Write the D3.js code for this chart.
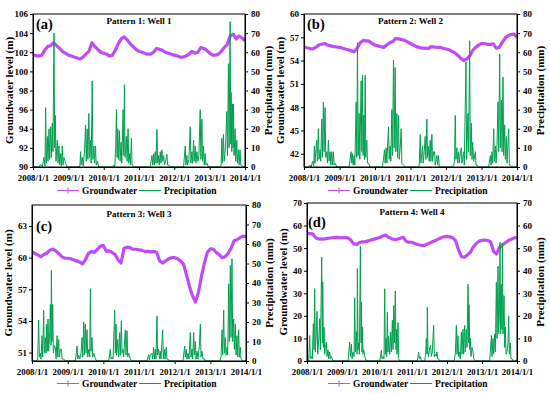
<!DOCTYPE html>
<html><head><meta charset="utf-8">
<script src="https://cdn.jsdelivr.net/npm/d3@7"></script>
<style>
body{margin:0;background:#fff}
svg text{font-family:"Liberation Serif","Times New Roman",serif;font-weight:bold;fill:#000}
</style>
</head><body>
<svg id="c" width="550" height="393"></svg>
<script>
// ---------------- DATA ----------------
const xTickLabels = ["2008/1/1","2009/1/1","2010/1/1","2011/1/1","2012/1/1","2013/1/1","2014/1/1"];
const panelTitles = ["Pattern 1: Well 1","Pattern 2: Well 2","Pattern 3: Well 3","Pattern 4: Well 4"];
const panelLabels = ["(a)","(b)","(c)","(d)"];
const leftTicksA = [90,92,94,96,98,100,102,104,106];
const leftTicksB = [42,45,48,51,54,57,60];
const leftTicksC = [51,54,57,60,63];
const leftTicksD = [0,10,20,30,40,50,60,70];
const rightTicks80 = [0,10,20,30,40,50,60,70,80];
const rightTicks70 = [0,10,20,30,40,50,60,70];
const leftDomains = [[90,106],[40.3,60],[50.2,65],[0,70]];
const rightDomains = [[0,80],[0,80],[0,80],[0,70]];

// Groundwater level (m), monthly, 2008/1 ... 2014/1
const gwA = [101.7,101.65,101.6,101.7,102.2,102.6,102.7,103.0,102.7,102.4,102.1,101.9,
101.7,101.6,101.5,101.4,101.3,101.5,101.8,102.1,103.0,102.6,102.3,102.0,
101.9,101.8,101.6,101.7,102.2,102.9,103.4,103.6,103.3,102.9,102.6,102.3,
102.1,102.0,101.9,101.8,101.8,102.0,102.4,102.3,102.2,102.0,101.9,101.8,
101.7,101.6,101.5,101.5,101.6,101.8,102.1,101.9,102.0,102.5,102.4,102.2,
101.9,101.7,101.7,101.8,102.1,102.5,102.8,103.7,103.9,103.4,103.7,103.5,
103.2];
const gwB = [55.8,55.65,55.55,55.5,55.7,56.0,56.1,56.2,56.0,55.9,55.8,55.75,
55.7,55.6,55.5,55.4,55.25,55.15,55.6,56.3,56.6,56.55,56.5,56.2,
56.0,55.9,55.8,55.7,56.0,56.3,56.45,56.85,56.8,56.7,56.6,56.4,
56.2,56.0,55.8,55.7,55.6,55.6,55.55,55.8,55.75,55.7,55.7,55.6,
55.5,55.4,55.2,55.0,54.7,54.3,54.0,54.2,54.6,55.3,55.7,56.0,
56.2,56.2,56.1,56.1,56.15,55.6,55.7,56.3,56.9,57.2,57.35,57.4,
57.0];
const gwC = [60.55,60.4,60.25,60.1,60.3,60.45,60.7,60.8,60.65,60.4,60.1,59.95,
59.95,59.9,59.8,59.7,59.6,59.4,59.8,60.4,60.6,60.5,60.8,61.1,
61.15,60.6,60.65,60.5,60.3,59.8,59.5,60.9,61.0,60.95,60.8,60.8,
60.75,60.7,60.6,60.6,60.55,60.6,60.5,59.7,59.5,59.7,59.9,60.0,
60.0,59.9,59.7,59.4,58.4,57.3,56.4,55.8,56.7,58.2,59.5,60.5,
60.85,60.8,60.5,60.3,60.0,60.1,60.4,60.9,61.6,61.7,61.9,62.05,
62.0];
const gwD = [56.7,56.4,56.3,54.6,54.1,54.0,54.1,54.3,54.5,54.7,54.8,54.7,
54.6,54.8,54.6,53.6,52.0,51.6,52.4,52.8,52.9,53.2,53.6,54.0,
54.4,54.8,55.4,55.8,54.8,54.2,53.8,54.0,54.4,54.8,53.0,52.6,
52.6,52.0,51.6,51.3,51.1,51.6,52.2,52.8,53.4,54.0,54.6,55.1,
55.2,55.0,54.6,53.2,49.2,46.2,46.0,47.0,48.2,50.5,52.0,53.1,
53.5,53.6,53.4,52.8,48.6,47.4,50.2,51.4,52.4,53.3,53.9,54.5,
54.8];

// Precipitation (mm): [decimal year, value]
const rainA = [[2008.0,0],
[2008.169,0],[2008.216,1.4],[2008.263,0],[2008.310,5],[2008.339,0.5],[2008.357,31],[2008.376,2],[2008.405,16],[2008.423,3],[2008.452,20],[2008.470,4],[2008.499,21],[2008.517,5],[2008.546,23],[2008.564,8],[2008.593,70],[2008.611,10],[2008.630,27],[2008.649,3],[2008.687,14],[2008.706,2],[2008.734,11],[2008.753,1],[2008.781,7],[2008.800,0.5],[2008.828,11],[2008.847,1],[2008.875,5],[2008.922,2],[2008.969,0],
[2009.251,0],[2009.326,0.5],[2009.345,8],[2009.364,1],[2009.392,5],[2009.420,0.5],[2009.458,9],[2009.486,22],[2009.505,3],[2009.533,20],[2009.552,4],[2009.580,28],[2009.599,5],[2009.627,14],[2009.646,2],[2009.674,45],[2009.693,4],[2009.722,11],[2009.740,2],[2009.769,11],[2009.787,1],[2009.816,3],[2009.863,0],
[2010.239,0],[2010.286,1],[2010.314,0],[2010.342,12],[2010.361,30],[2010.380,5],[2010.399,20],[2010.418,4],[2010.446,19],[2010.465,3],[2010.493,13],[2010.512,2],[2010.549,30],[2010.568,6],[2010.587,43],[2010.606,5],[2010.643,16],[2010.662,3],[2010.690,20],[2010.709,2],[2010.738,7],[2010.756,1],[2010.785,15],[2010.803,1],[2010.832,0.5],[2010.869,0],
[2011.274,0],[2011.321,0.5],[2011.368,6],[2011.387,1],[2011.415,7],[2011.434,1],[2011.462,8],[2011.481,2],[2011.509,19.6],[2011.528,2],[2011.556,6],[2011.575,1],[2011.603,8],[2011.622,2],[2011.650,9],[2011.669,3],[2011.697,6],[2011.725,1],[2011.791,6.6],[2011.810,1],[2011.838,1],[2011.885,0],
[2012.262,0],[2012.309,11],[2012.327,1],[2012.356,6],[2012.374,1],[2012.412,4],[2012.450,21],[2012.469,2],[2012.497,8],[2012.516,2],[2012.544,14],[2012.563,3],[2012.591,11],[2012.610,2],[2012.638,8],[2012.666,3],[2012.694,6],[2012.732,30],[2012.751,4],[2012.779,25],[2012.798,3],[2012.827,11],[2012.845,1],[2012.873,7],[2012.892,1],[2012.920,2],[2012.967,0],
[2013.277,0],[2013.324,1],[2013.343,15],[2013.362,2],[2013.390,17],[2013.409,3],[2013.447,10],[2013.484,29],[2013.503,6],[2013.532,54],[2013.550,10],[2013.578,76],[2013.597,12],[2013.607,39],[2013.626,8],[2013.644,33],[2013.663,10],[2013.673,33],[2013.691,6],[2013.720,20],[2013.738,3],[2013.767,14],[2013.786,2],[2013.814,9],[2013.833,1],[2013.861,9],[2013.880,1],[2013.908,1],[2013.955,0],
[2014.0,0]];
const rainB = [[2008.0,0],
[2008.122,0],[2008.169,1],[2008.198,0],[2008.245,3],[2008.273,0.5],[2008.292,11],[2008.310,2],[2008.339,10],[2008.357,14],[2008.376,3],[2008.405,20],[2008.423,4],[2008.452,9],[2008.470,3],[2008.499,25],[2008.517,5],[2008.546,34],[2008.564,8],[2008.593,31],[2008.611,5],[2008.640,8],[2008.659,2],[2008.687,14],[2008.706,3],[2008.734,8],[2008.753,1],[2008.781,8],[2008.800,1],[2008.828,8],[2008.847,1],[2008.875,2],[2008.922,0],
[2009.270,0],[2009.326,8],[2009.345,2],[2009.364,7],[2009.383,1],[2009.411,6],[2009.430,1],[2009.468,34],[2009.486,5],[2009.505,65],[2009.524,6],[2009.552,28],[2009.571,4],[2009.609,45],[2009.627,8],[2009.646,48],[2009.665,6],[2009.684,27],[2009.703,4],[2009.722,48],[2009.740,5],[2009.769,14],[2009.787,2],[2009.816,2],[2009.863,0],
[2010.211,0],[2010.267,9],[2010.286,2],[2010.314,10],[2010.333,2],[2010.380,21],[2010.399,4],[2010.427,11],[2010.446,3],[2010.474,30],[2010.493,6],[2010.521,56],[2010.540,10],[2010.568,52],[2010.587,8],[2010.615,28],[2010.634,5],[2010.662,27],[2010.681,4],[2010.709,10],[2010.737,20],[2010.756,2],[2010.803,1],[2010.850,0],
[2011.208,0],[2011.246,1],[2011.274,17],[2011.293,2],[2011.340,11],[2011.358,2],[2011.387,8],[2011.415,16],[2011.434,4],[2011.462,25],[2011.481,5],[2011.509,11],[2011.528,3],[2011.556,14],[2011.575,3],[2011.603,17],[2011.622,3],[2011.650,8],[2011.678,8],[2011.697,1],[2011.744,6],[2011.763,1],[2011.791,6],[2011.810,0.5],[2011.857,0],
[2012.167,0],[2012.214,1],[2012.242,3],[2012.261,27],[2012.280,4],[2012.308,10],[2012.327,2],[2012.355,8],[2012.374,2],[2012.402,7],[2012.431,10],[2012.449,2],[2012.497,8],[2012.515,1],[2012.562,55],[2012.581,4],[2012.619,28],[2012.637,8],[2012.666,66],[2012.684,6],[2012.713,23],[2012.732,4],[2012.750,13],[2012.779,3],[2012.826,8],[2012.845,1],[2012.873,1],[2012.920,0],
[2013.202,0],[2013.249,6],[2013.268,1],[2013.296,8],[2013.315,2],[2013.343,20],[2013.362,3],[2013.390,11],[2013.409,2],[2013.437,12],[2013.465,34],[2013.484,8],[2013.512,59],[2013.531,10],[2013.559,35],[2013.578,8],[2013.606,47],[2013.625,6],[2013.653,22],[2013.672,4],[2013.700,16],[2013.719,2],[2013.766,20],[2013.785,1],[2013.813,1],[2013.860,0],
[2014.0,0]];
const rainC = [[2008.0,0],
[2008.121,0],[2008.159,1],[2008.187,21],[2008.206,2],[2008.234,4],[2008.252,1],[2008.280,13],[2008.299,2],[2008.327,26],[2008.346,4],[2008.374,12],[2008.393,4],[2008.411,19],[2008.430,5],[2008.449,21.5],[2008.467,5],[2008.495,15],[2008.514,29],[2008.533,8],[2008.542,46.5],[2008.561,10],[2008.579,29],[2008.598,4],[2008.626,8],[2008.654,7],[2008.673,1],[2008.701,13],[2008.720,2],[2008.748,11],[2008.766,2],[2008.794,6],[2008.822,6],[2008.841,1],[2008.888,1],[2008.935,0],
[2009.215,0],[2009.262,7.7],[2009.280,1],[2009.308,3],[2009.336,1],[2009.374,4],[2009.402,12],[2009.421,2],[2009.449,20],[2009.467,3],[2009.495,19],[2009.514,4],[2009.542,16],[2009.561,2],[2009.589,6],[2009.617,2],[2009.636,37],[2009.654,5],[2009.682,12],[2009.701,2],[2009.729,4],[2009.776,1],[2009.822,0],
[2010.150,0],[2010.196,6],[2010.215,1],[2010.243,2],[2010.271,1],[2010.318,26],[2010.336,4],[2010.355,19],[2010.374,3],[2010.402,11],[2010.430,2],[2010.458,14.6],[2010.477,3],[2010.505,20.6],[2010.523,4],[2010.551,6],[2010.570,2],[2010.617,16],[2010.636,3],[2010.664,15.5],[2010.682,2],[2010.710,4],[2010.757,1],[2010.804,0],
[2011.224,0],[2011.271,3.4],[2011.290,0.5],[2011.318,3],[2011.364,4],[2011.383,1],[2011.411,7],[2011.430,1],[2011.458,6],[2011.477,1],[2011.505,23],[2011.523,3],[2011.551,6],[2011.579,1],[2011.598,5],[2011.617,1],[2011.664,16],[2011.682,1],[2011.710,6],[2011.729,1],[2011.766,7],[2011.785,1],[2011.813,1],[2011.850,0],
[2012.234,0],[2012.280,7.7],[2012.299,2],[2012.327,6],[2012.346,1],[2012.374,4],[2012.402,1],[2012.439,14.6],[2012.458,2],[2012.486,6],[2012.505,1],[2012.533,14.6],[2012.551,3],[2012.579,10],[2012.598,1],[2012.626,5],[2012.654,1],[2012.692,8],[2012.720,19],[2012.738,2],[2012.766,5],[2012.794,1],[2012.832,1],[2012.869,0],
[2013.262,0],[2013.299,2],[2013.327,16],[2013.346,3],[2013.374,26],[2013.393,4],[2013.421,12],[2013.439,3],[2013.467,7],[2013.486,3],[2013.514,39.6],[2013.533,10],[2013.561,49],[2013.579,12],[2013.607,52.5],[2013.626,10],[2013.654,21.5],[2013.673,6],[2013.701,19],[2013.720,3],[2013.748,13],[2013.766,2],[2013.794,16],[2013.813,2],[2013.841,7],[2013.860,1],[2013.916,0],
[2014.0,0]];
const rainD = [[2008.0,0],
[2008.048,0],[2008.076,11.3],[2008.095,1],[2008.124,2],[2008.152,1],[2008.181,16.5],[2008.200,5],[2008.219,32],[2008.238,4],[2008.267,13],[2008.286,22],[2008.305,3],[2008.333,9],[2008.362,18.7],[2008.381,5],[2008.400,24.6],[2008.419,46],[2008.438,8],[2008.448,35],[2008.467,6],[2008.486,15],[2008.505,3],[2008.524,6],[2008.552,8.4],[2008.571,2],[2008.600,5],[2008.619,1],[2008.648,4],[2008.667,1],[2008.695,2],[2008.743,0],
[2009.171,0],[2009.219,8.4],[2009.238,2],[2009.267,7.5],[2009.286,1],[2009.314,4],[2009.343,2],[2009.362,28],[2009.381,4],[2009.410,13],[2009.429,3],[2009.438,41],[2009.457,5],[2009.476,8],[2009.495,3],[2009.524,51],[2009.543,8],[2009.552,26],[2009.571,4],[2009.581,15],[2009.600,3],[2009.619,5],[2009.648,2],[2009.695,0],
[2010.076,0],[2010.124,4.7],[2010.143,1],[2010.171,2],[2010.200,1],[2010.219,32],[2010.238,3],[2010.257,10],[2010.276,2],[2010.295,21.6],[2010.314,4],[2010.333,11],[2010.362,3],[2010.390,12.8],[2010.410,4],[2010.438,18],[2010.457,5],[2010.476,24.6],[2010.495,8],[2010.524,31],[2010.543,5],[2010.552,14],[2010.571,3],[2010.600,17],[2010.619,1],[2010.648,0],
[2011.152,0],[2011.190,4],[2011.210,1],[2011.238,2],[2011.267,0],[2011.362,0],[2011.390,3],[2011.410,10],[2011.429,3],[2011.438,23.8],[2011.457,4],[2011.476,2],[2011.505,6],[2011.533,7],[2011.552,2],[2011.581,4],[2011.619,15.8],[2011.638,2],[2011.667,3],[2011.695,2],[2011.714,4],[2011.733,1],[2011.762,1],[2011.800,0],
[2012.200,0],[2012.238,3],[2012.267,15.8],[2012.286,3],[2012.314,11.3],[2012.333,2],[2012.362,4],[2012.381,1],[2012.410,12.8],[2012.429,3],[2012.457,14],[2012.476,3],[2012.505,15.8],[2012.524,4],[2012.552,14],[2012.571,6],[2012.600,34],[2012.619,8],[2012.629,25],[2012.648,5],[2012.667,10],[2012.686,2],[2012.714,6],[2012.743,4],[2012.762,1],[2012.810,0],
[2013.219,0],[2013.267,11.3],[2013.286,2],[2013.314,10],[2013.333,3],[2013.362,12],[2013.381,4],[2013.410,35],[2013.429,10],[2013.457,42],[2013.476,12],[2013.495,20],[2013.514,52.6],[2013.533,12],[2013.552,34],[2013.571,14],[2013.581,52],[2013.600,12],[2013.629,29],[2013.648,6],[2013.667,15],[2013.686,3],[2013.714,4],[2013.743,8],[2013.762,20],[2013.781,3],[2013.810,8],[2013.829,1],[2013.857,1],[2013.895,0],
[2014.0,0]];

const legendLabels = ["Groundwater","Precipitation"];
const leftAxisTitle = "Groundwater level (m)";
const rightAxisTitle = "Precipitation (mm)";

// ---------------- DRAW ----------------
const GW_COLOR = "#c04cf7";
const P_COLOR = "#00a04e";
const svg = d3.select("#c");
const gwSets = [gwA,gwB,gwC,gwD];
const rainSets = [rainA,rainB,rainC,rainD];
const leftTickSets = [leftTicksA,leftTicksB,leftTicksC,leftTicksD];
const rightTickSets = [rightTicks80,rightTicks80,rightTicks80,rightTicks70];
const geom = [
  {l:33,r:245,t:14,b:167, lab:[36,29], tt:10, legY:190.5, legX:57},
  {l:304,r:517,t:14,b:167, lab:[307,28.5], tt:10, legY:190.5, legX:328},
  {l:32,r:246,t:205,b:361, lab:[36,231], tt:11.5, legY:383.5, legX:57},
  {l:307,r:517,t:203,b:361, lab:[308,227], tt:12, legY:383.5, legX:328}
];
const months = d3.timeMonth.range(new Date(2008,0,1), new Date(2014,1,1));
const yearDates = d3.timeYear.range(new Date(2008,0,1), new Date(2015,0,1)).slice(0,7);
function decYear(v){
  const y = Math.floor(v);
  const s = new Date(y,0,1), e = new Date(y+1,0,1);
  return new Date(+s + (v-y)*(e-s));
}

geom.forEach((g,i)=>{
  const x = d3.scaleTime().domain([new Date(2008,0,1), new Date(2014,0,1)]).range([g.l,g.r]);
  const yL = d3.scaleLinear().domain(leftDomains[i]).range([g.b,g.t]);
  const yR = d3.scaleLinear().domain(rightDomains[i]).range([g.b,g.t]);
  const gp = svg.append("g");

  const cid = "clip"+i;
  svg.append("clipPath").attr("id",cid).append("rect")
    .attr("x",g.l).attr("y",g.t).attr("width",g.r-g.l).attr("height",g.b-g.t);

  // groundwater line
  gp.append("path").datum(gwSets[i].map((v,k)=>[months[k],v]))
    .attr("clip-path",`url(#${cid})`)
    .attr("fill","none").attr("stroke",GW_COLOR).attr("stroke-width",3.2)
    .attr("stroke-linejoin","round")
    .attr("d", d3.line().x(d=>x(d[0])).y(d=>yL(d[1])));

  // precipitation line
  gp.append("path").datum(rainSets[i])
    .attr("clip-path",`url(#${cid})`)
    .attr("fill","none").attr("stroke",P_COLOR).attr("stroke-width",1)
    .attr("d", d3.line().x(d=>x(decYear(d[0]))).y(d=>yR(d[1])));

  // frame
  gp.append("rect").attr("x",g.l).attr("y",g.t).attr("width",g.r-g.l).attr("height",g.b-g.t)
    .attr("fill","none").attr("stroke","#000").attr("stroke-width",1);

  const styleAxis = fs => sel => {
    sel.selectAll("path.domain").attr("stroke","#000");
    sel.selectAll(".tick line").attr("stroke","#000");
    sel.selectAll("text").attr("font-size",fs).attr("font-family",null).attr("font-weight",null);
  };
  gp.append("g").attr("transform",`translate(0,${g.b})`)
    .call(d3.axisBottom(x).tickValues(yearDates).tickFormat((d,k)=>xTickLabels[k]).tickSize(3).tickSizeOuter(0).tickPadding(4.5))
    .call(styleAxis("8.8px"));
  gp.append("g").attr("transform",`translate(${g.l},0)`)
    .call(d3.axisLeft(yL).tickValues(leftTickSets[i]).tickFormat(d3.format("d")).tickSize(3).tickSizeOuter(0).tickPadding(2))
    .call(styleAxis("9px"));
  gp.append("g").attr("transform",`translate(${g.r},0)`)
    .call(d3.axisRight(yR).tickValues(rightTickSets[i]).tickFormat(d3.format("d")).tickSize(3).tickSizeOuter(0).tickPadding(3))
    .call(styleAxis("9px"));

  // axis titles
  const mid = (g.t+g.b)/2;
  gp.append("text").attr("transform",`translate(${g.l-24},${mid}) rotate(-90)`)
    .attr("text-anchor","middle").attr("dy","0.35em").attr("font-size","11px").text(leftAxisTitle);
  gp.append("text").attr("transform",`translate(${g.r+23},${mid}) rotate(-90)`)
    .attr("text-anchor","middle").attr("dy","0.35em").attr("font-size","11px").text(rightAxisTitle);

  // panel title & label
  gp.append("text").attr("x",(g.l+g.r)/2).attr("y",g.t+g.tt).attr("text-anchor","middle")
    .attr("font-size","9px").text(panelTitles[i]);
  gp.append("text").attr("x",g.lab[0]).attr("y",g.lab[1]).attr("font-size","14.5px").text(panelLabels[i]);

  // legend
  const lg = gp.append("g").attr("transform",`translate(${g.legX},${g.legY})`);
  lg.append("line").attr("x1",0).attr("x2",22).attr("stroke",GW_COLOR).attr("stroke-width",1);
  lg.append("path").attr("d","M8,0H14M11,-3V3").attr("stroke",GW_COLOR).attr("stroke-width",1);
  lg.append("text").attr("x",25).attr("dy","0.35em").attr("font-size","9.5px").text(legendLabels[0]);
  lg.append("line").attr("x1",82).attr("x2",104).attr("stroke",P_COLOR).attr("stroke-width",1);
  lg.append("text").attr("x",107).attr("dy","0.35em").attr("font-size","9.5px").text(legendLabels[1]);
});
</script>
</body></html>
